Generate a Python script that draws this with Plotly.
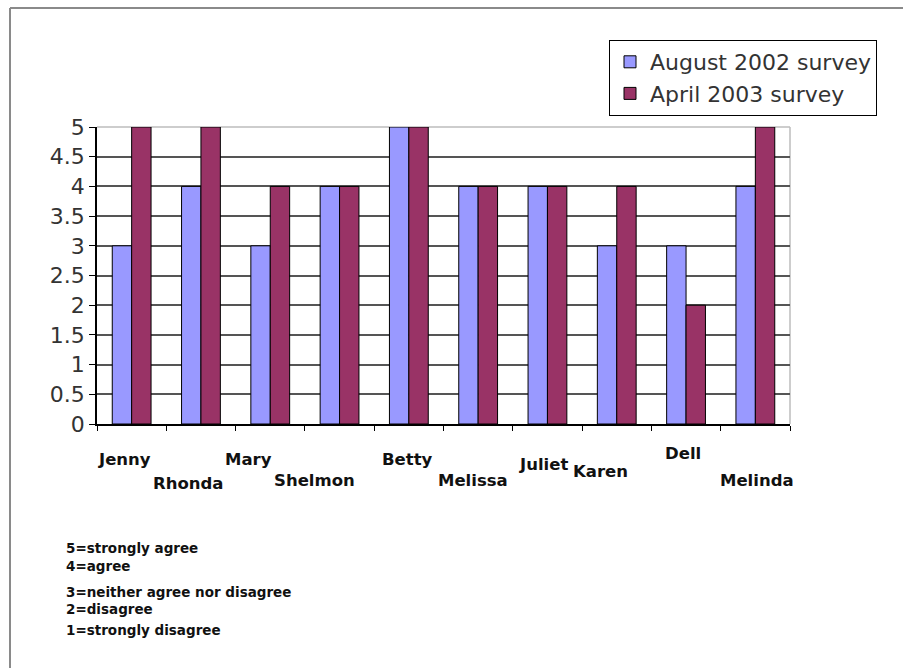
import plotly.graph_objects as go

names = ["Jenny", "Rhonda", "Mary", "Shelmon", "Betty",
         "Melissa", "Juliet", "Karen", "Dell", "Melinda"]
aug_2002 = [3, 4, 3, 4, 5, 4, 4, 3, 3, 4]
apr_2003 = [5, 5, 4, 4, 5, 4, 4, 4, 2, 5]
series_names = ["August 2002 survey", "April 2003 survey"]
y_ticks = [0, 0.5, 1, 1.5, 2, 2.5, 3, 3.5, 4, 4.5, 5]
y_tick_text = ["0", "0.5", "1", "1.5", "2", "2.5", "3", "3.5", "4", "4.5", "5"]
scale_notes = ["5=strongly agree", "4=agree", "3=neither agree nor disagree",
               "2=disagree", "1=strongly disagree"]

# staggered category label placement (pixel offsets from each category centre / plot bottom)
label_dx = [-7, -13, -22, -25, -1, -5, -4, -16, -3, 2]
label_y = [460, 483, 460, 481, 460, 481, 464, 471, 453, 480]
note_y = [548, 566, 592, 609, 630]

W, H = 903, 668
L, R, T, B = 97, 790, 127, 424
pw, ph = R - L, B - T


def px(x):
    return (x - L) / pw


def py(y):
    return (B - y) / ph


fig = go.Figure()
fig.add_trace(go.Bar(x=names, y=aug_2002, name=series_names[0],
                     marker=dict(color="#9999FF", line=dict(color="#000000", width=1))))
fig.add_trace(go.Bar(x=names, y=apr_2003, name=series_names[1],
                     marker=dict(color="#993366", line=dict(color="#000000", width=1))))

annotations = []
for n, dx, yy in zip(names, label_dx, label_y):
    annotations.append(dict(x=n, y=py(yy), xref="x", yref="paper", text="<b>%s</b>" % n,
                            showarrow=False, xshift=dx, xanchor="center", yanchor="middle",
                            font=dict(family="DejaVu Sans", size=16.5, color="#111111")))
for t, yy in zip(scale_notes, note_y):
    annotations.append(dict(x=px(64), y=py(yy), xref="paper", yref="paper", text="<b>%s</b>" % t,
                            showarrow=False, xanchor="left", yanchor="middle",
                            font=dict(family="DejaVu Sans", size=13.5, color="#111111")))

shapes = [
    # outer frame (left and top edges)
    dict(type="line", xref="paper", yref="paper", x0=px(10), x1=px(10), y0=py(H + 5), y1=py(8),
         line=dict(color="#8a8a8a", width=2)),
    dict(type="line", xref="paper", yref="paper", x0=px(10), x1=px(W + 5), y0=py(8), y1=py(8),
         line=dict(color="#8a8a8a", width=2)),
    # light border on top and right of the plot area
    dict(type="line", xref="paper", yref="paper", x0=0, x1=1, y0=1, y1=1,
         line=dict(color="#bdbdbd", width=1.5), layer="below"),
    dict(type="line", xref="paper", yref="paper", x0=1, x1=1, y0=0, y1=1,
         line=dict(color="#bdbdbd", width=1.5), layer="below"),
]

fig.update_layout(
    width=W, height=H, autosize=False,
    margin=dict(l=L, r=W - R, t=T, b=H - B, pad=0),
    paper_bgcolor="white", plot_bgcolor="white",
    barmode="group", bargap=0.44, bargroupgap=0,
    font=dict(family="DejaVu Sans", color="#333333"),
    showlegend=True,
    legend=dict(x=px(609), y=py(40), xanchor="left", yanchor="top",
                bordercolor="#000000", borderwidth=1, bgcolor="white",
                font=dict(size=22, color="#333333"), tracegroupgap=0,
                itemwidth=30),
    annotations=annotations,
    shapes=shapes,
)
fig.update_xaxes(showticklabels=False, ticks="outside", tickson="boundaries", ticklen=5,
                 tickcolor="#000000", showline=True, linecolor="#000000", linewidth=1.5,
                 showgrid=False, range=[-0.5, len(names) - 0.5])
fig.update_yaxes(range=[0, 5], tickvals=y_ticks, ticktext=y_tick_text, ticks="outside",
                 ticklen=6, tickcolor="#000000", showline=True, linecolor="#000000",
                 linewidth=1.5, showgrid=True, gridcolor="#555555", gridwidth=1.5,
                 zeroline=False, tickfont=dict(size=22, color="#333333"))

fig.write_html("out.html")
